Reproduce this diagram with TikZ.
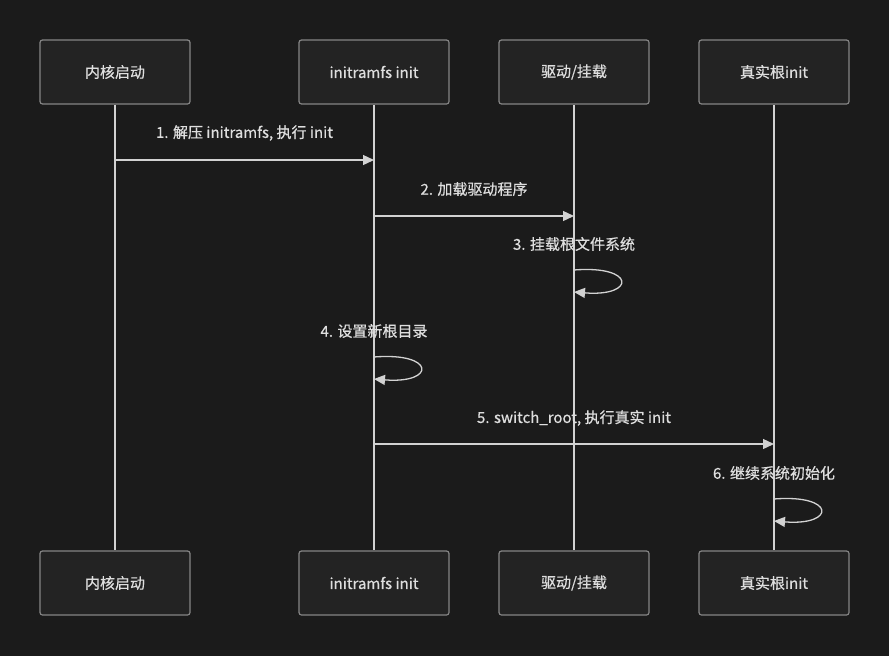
\documentclass[tikz,border=0pt]{standalone}
\usepackage{fontspec}
\setmainfont{Noto Sans CJK SC}[FakeBold=0.6]
\usetikzlibrary{arrows.meta,positioning,calc}
\definecolor{bgdark}{HTML}{1B1B1B}
\definecolor{boxfill}{HTML}{232323}
\definecolor{boxline}{HTML}{858585}
\definecolor{linegray}{HTML}{D2D2D2}
\definecolor{textgray}{HTML}{DEDEDE}

\begin{document}
\begin{tikzpicture}[
  x=1pt, y=-1pt,
  actor/.style={draw=boxline, fill=boxfill, rounded corners=2.5pt, line width=1.2pt,
    minimum width=150pt, minimum height=64pt, font=\fontsize{15}{17}\selectfont, text=textgray},
  life/.style={linegray, line width=1.3pt},
  msg/.style={-{Triangle[length=11pt, width=10pt]}, linegray, line width=1.3pt},
  lbl/.style={font=\fontsize{15}{17}\selectfont, text=textgray}
]
  \fill[bgdark] (0,0) rectangle (889,656);
  \useasboundingbox (0,0) rectangle (889,656);

  % Nodes
  \node[actor] (kern) at (115,72) {内核启动};
  \node[actor] (irfs) at (374,72) {initramfs init};
  \node[actor] (drv) at (574,72) {驱动/挂载};
  \node[actor] (rinit) at (774,72) {真实根init};
  \node[actor] (kernb) at (115,583) {内核启动};
  \node[actor] (irfsb) at (374,583) {initramfs init};
  \node[actor] (drvb) at (574,583) {驱动/挂载};
  \node[actor] (rinitb) at (774,583) {真实根init};

  % Lifelines
  \draw[life] (kern) -- (kernb);
  \draw[life] (irfs) -- (irfsb);
  \draw[life] (drv) -- (drvb);
  \draw[life] (rinit) -- (rinitb);

  % Message points
  \coordinate (m1a) at ($(kern)+(0,88)$);
  \coordinate (m1b) at ($(irfs)+(0,88)$);
  \coordinate (m2a) at ($(irfs)+(0,144)$);
  \coordinate (m2b) at ($(drv)+(0,144)$);
  \coordinate (s3a) at ($(drv)+(0,198)$);
  \coordinate (s3b) at ($(drv)+(0,220)$);
  \coordinate (s4a) at ($(irfs)+(0,285)$);
  \coordinate (s4b) at ($(irfs)+(0,307)$);
  \coordinate (m5a) at ($(irfs)+(0,372)$);
  \coordinate (m5b) at ($(rinit)+(0,372)$);
  \coordinate (s6a) at ($(rinit)+(0,427)$);
  \coordinate (s6b) at ($(rinit)+(0,449)$);

  % Arrows
  \draw[msg] (m1a) -- node[lbl, yshift=27pt] {1. 解压 initramfs, 执行 init} (m1b);
  \draw[msg] (m2a) -- node[lbl, yshift=27pt] {2. 加载驱动程序} (m2b);
  \draw[msg] (s3a) .. controls +(62,-5) and +(62,5) .. node[lbl, pos=0, yshift=26pt] {3. 挂载根文件系统} (s3b);
  \draw[msg] (s4a) .. controls +(62,-5) and +(62,5) .. node[lbl, pos=0, yshift=26pt] {4. 设置新根目录} (s4b);
  \draw[msg] (m5a) -- node[lbl, yshift=26pt] {5. switch\_root, 执行真实 init} (m5b);
  \draw[msg] (s6a) .. controls +(62,-5) and +(62,5) .. node[lbl, pos=0, yshift=26pt] {6. 继续系统初始化} (s6b);
\end{tikzpicture}
\end{document}
